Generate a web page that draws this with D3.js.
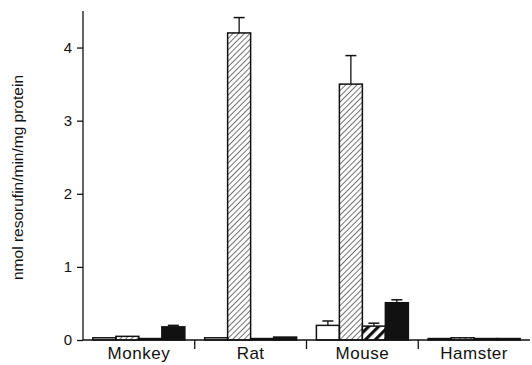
<!DOCTYPE html>
<html>
<head>
<meta charset="utf-8">
<script src="https://cdn.jsdelivr.net/npm/d3@7"></script>
<style>
  body { margin: 0; background: #fff; }
  svg { display: block; font-family: "Liberation Sans", Arial, sans-serif; }
</style>
</head>
<body>
<div id="chart"></div>
<script>
// ── Data ──
const species = ['Monkey', 'Rat', 'Mouse', 'Hamster'];
const treatments = ['open', 'hatched', 'boldHatched', 'solid'];

const openVals        = [0.03, 0.03, 0.20, 0.02];
const hatchedVals     = [0.05, 4.20, 3.50, 0.03];
const boldHatchedVals = [0.02, 0.02, 0.19, 0.02];
const solidVals       = [0.18, 0.04, 0.51, 0.02];

const openErr        = [0, 0, 0.06, 0];
const hatchedErr     = [0, 0.21, 0.39, 0];
const boldHatchedErr = [0, 0, 0.04, 0];
const solidErr       = [0.02, 0, 0.04, 0];

const yTicks = [0, 1, 2, 3, 4];
const yLabel = 'nmol resorufin/min/mg protein';

const values = { open: openVals, hatched: hatchedVals, boldHatched: boldHatchedVals, solid: solidVals };
const errors = { open: openErr, hatched: hatchedErr, boldHatched: boldHatchedErr, solid: solidErr };

const rows = [];
species.forEach((s, i) => {
  treatments.forEach(t => rows.push({ species: s, treatment: t, value: values[t][i], err: errors[t][i] }));
});

// ── Layout ──
const W = 532, H = 365;
const margin = { top: 11, right: 2, bottom: 25, left: 83 };

const svg = d3.select('#chart').append('svg')
  .attr('width', W).attr('height', H);

const defs = svg.append('defs');
defs.append('pattern')
  .attr('id', 'fine').attr('patternUnits', 'userSpaceOnUse')
  .attr('width', 4).attr('height', 4)
  .attr('patternTransform', 'rotate(45)')
  .append('line')
  .attr('x1', 0).attr('y1', 0).attr('x2', 0).attr('y2', 4)
  .attr('stroke', '#111').attr('stroke-width', 1.2);

const bold = defs.append('pattern')
  .attr('id', 'bold').attr('patternUnits', 'userSpaceOnUse')
  .attr('width', 7).attr('height', 7)
  .attr('patternTransform', 'rotate(45)');
bold.append('rect').attr('width', 7).attr('height', 7).attr('fill', '#fff');
bold.append('rect').attr('x', 0).attr('width', 3.2).attr('height', 7).attr('fill', '#111');

const fills = { open: '#fff', hatched: 'url(#fine)', boldHatched: 'url(#bold)', solid: '#111' };

const x = d3.scaleBand()
  .domain(species)
  .range([margin.left, W - margin.right])
  .padding(0);

const xInner = d3.scaleBand()
  .domain(treatments)
  .range([0, x.bandwidth()])
  .paddingInner(0)
  .paddingOuter(0.43);

const y = d3.scaleLinear()
  .domain([0, 4.5])
  .range([H - margin.bottom, margin.top]);

// ── Bars ──
const g = svg.append('g');
g.selectAll('rect.bar')
  .data(rows)
  .enter()
  .append('rect')
  .attr('class', 'bar')
  .attr('x', d => x(d.species) + xInner(d.treatment))
  .attr('y', d => y(d.value))
  .attr('width', xInner.bandwidth())
  .attr('height', d => y(0) - y(d.value))
  .attr('fill', d => fills[d.treatment])
  .attr('stroke', '#111')
  .attr('stroke-width', 1.5);

// Error bars
const withErr = rows.filter(d => d.err > 0);
g.selectAll('line.err')
  .data(withErr)
  .enter()
  .append('line')
  .attr('x1', d => x(d.species) + xInner(d.treatment) + xInner.bandwidth() / 2)
  .attr('x2', d => x(d.species) + xInner(d.treatment) + xInner.bandwidth() / 2)
  .attr('y1', d => y(d.value))
  .attr('y2', d => y(d.value + d.err))
  .attr('stroke', '#111').attr('stroke-width', 1.3);
g.selectAll('line.cap')
  .data(withErr)
  .enter()
  .append('line')
  .attr('x1', d => x(d.species) + xInner(d.treatment) + xInner.bandwidth() / 2 - 5.5)
  .attr('x2', d => x(d.species) + xInner(d.treatment) + xInner.bandwidth() / 2 + 5.5)
  .attr('y1', d => y(d.value + d.err))
  .attr('y2', d => y(d.value + d.err))
  .attr('stroke', '#111').attr('stroke-width', 1.5);

// ── Axes ──
const yAxis = svg.append('g')
  .attr('transform', `translate(${margin.left},0)`)
  .call(d3.axisLeft(y).tickValues(yTicks).tickSize(6).tickPadding(5).tickFormat(d3.format('d')));
yAxis.select('.domain').attr('d', `M0,${y(0)}V${margin.top}`).attr('stroke', '#111').attr('stroke-width', 1.3);
yAxis.selectAll('line').attr('stroke', '#111').attr('stroke-width', 1.3);
yAxis.selectAll('text').attr('fill', '#111').style('font-size', '15px');

// Baseline with category dividers
svg.append('line')
  .attr('x1', margin.left).attr('x2', W - margin.right)
  .attr('y1', y(0)).attr('y2', y(0))
  .attr('stroke', '#111').attr('stroke-width', 1.5);
svg.selectAll('line.div')
  .data(species.slice(1))
  .enter()
  .append('line')
  .attr('x1', d => x(d)).attr('x2', d => x(d))
  .attr('y1', y(0)).attr('y2', y(0) + 9)
  .attr('stroke', '#111').attr('stroke-width', 1.3);

svg.selectAll('text.cat')
  .data(species)
  .enter()
  .append('text')
  .attr('x', d => x(d) + x.bandwidth() / 2)
  .attr('y', H - 6)
  .attr('text-anchor', 'middle')
  .attr('fill', '#111')
  .style('font-size', '17px')
  .style('letter-spacing', '0.5px')
  .text(d => d);

// Y axis label
svg.append('text')
  .attr('transform', 'rotate(-90)')
  .attr('x', -(y(0) + margin.top) / 2 - 2)
  .attr('y', 23)
  .attr('text-anchor', 'middle')
  .attr('fill', '#111')
  .style('font-size', '15.5px')
  .text(yLabel);
</script>
</body>
</html>
